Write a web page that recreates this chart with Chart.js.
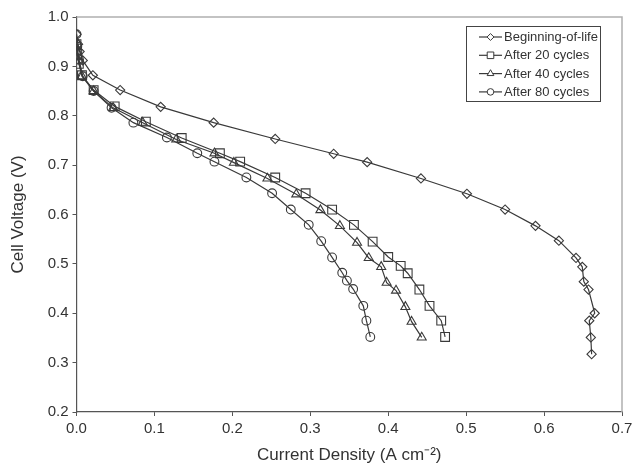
<!DOCTYPE html>
<html>
<head>
<meta charset="utf-8">
<script src="https://cdn.jsdelivr.net/npm/chart.js@4.4.1/dist/chart.umd.min.js"></script>
<style>
html,body{margin:0;padding:0;background:#fff;}
#wrap{width:637px;height:466px;position:relative;}
</style>
</head>
<body>
<div id="wrap"><canvas id="c" width="637" height="466"></canvas></div>
<script>
// ---- data ----
const seriesLabels = ['Beginning-of-life', 'After 20 cycles', 'After 40 cycles', 'After 80 cycles'];

const bolX = [0.000,0.002,0.004,0.008,0.021,0.056,0.108,0.176,0.255,0.330,0.373,0.442,0.501,0.550,0.589,0.619,0.641,0.649,0.651,0.657,0.665,0.658,0.660,0.661];
const bolY = [0.965,0.945,0.930,0.912,0.882,0.852,0.818,0.786,0.753,0.723,0.706,0.673,0.642,0.610,0.577,0.547,0.512,0.494,0.464,0.448,0.400,0.385,0.351,0.317];

const c20X = [0.000,0.001,0.003,0.007,0.022,0.049,0.089,0.135,0.184,0.210,0.255,0.294,0.328,0.356,0.380,0.400,0.416,0.425,0.440,0.453,0.468,0.473];
const c20Y = [0.945,0.925,0.905,0.882,0.852,0.819,0.788,0.755,0.724,0.707,0.675,0.643,0.610,0.579,0.545,0.514,0.496,0.481,0.448,0.415,0.385,0.352];

const c40X = [0.000,0.001,0.003,0.007,0.022,0.047,0.085,0.128,0.177,0.202,0.245,0.282,0.313,0.338,0.360,0.375,0.391,0.398,0.410,0.422,0.430,0.443];
const c40Y = [0.950,0.930,0.910,0.880,0.850,0.816,0.786,0.752,0.724,0.705,0.673,0.641,0.609,0.577,0.543,0.512,0.494,0.462,0.446,0.413,0.383,0.351];

const c80X = [0.000,0.001,0.003,0.008,0.022,0.045,0.073,0.116,0.155,0.177,0.218,0.251,0.275,0.298,0.314,0.328,0.341,0.347,0.355,0.368,0.372,0.377];
const c80Y = [0.965,0.940,0.915,0.880,0.850,0.816,0.786,0.756,0.724,0.707,0.675,0.643,0.610,0.579,0.546,0.513,0.482,0.466,0.449,0.415,0.385,0.352];

const xTicks = [0.0,0.1,0.2,0.3,0.4,0.5,0.6,0.7];
const yTicks = [0.2,0.3,0.4,0.5,0.6,0.7,0.8,0.9,1.0];

const toPts = (xs, ys) => xs.map((x, i) => ({x: x, y: ys[i]}));

const ink = '#3a3a3a';
const styles = [
  {pointStyle: 'rectRot', radius: 4.6},
  {pointStyle: 'rect', radius: 6.2},
  {pointStyle: 'triangle', radius: 5.2},
  {pointStyle: 'circle', radius: 4.4}
];
const allData = [toPts(bolX,bolY), toPts(c20X,c20Y), toPts(c40X,c40Y), toPts(c80X,c80Y)];

const datasets = allData.map((d, i) => ({
  label: seriesLabels[i],
  data: d,
  showLine: true,
  borderColor: ink,
  borderWidth: 1.2,
  pointStyle: styles[i].pointStyle,
  pointRadius: styles[i].radius,
  pointBorderColor: ink,
  pointBackgroundColor: 'rgba(255,255,255,0)',
  pointBorderWidth: 1.1,
  tension: 0
}));

const fontFam = '"Liberation Sans", Arial, sans-serif';

// custom boxed legend + frame
const boxLegend = {
  id: 'boxLegend',
  afterDraw(chart) {
    const ctx = chart.ctx;
    const a = chart.chartArea;
    ctx.save();
    // light frame (top / right)
    ctx.strokeStyle = '#b0b0b0';
    ctx.lineWidth = 1.5;
    ctx.beginPath();
    ctx.moveTo(a.left, a.top);
    ctx.lineTo(a.right, a.top);
    ctx.lineTo(a.right, a.bottom);
    ctx.stroke();
    // legend box
    const bx = 466.5, by = 26.5, bw = 134, bh = 75;
    ctx.strokeStyle = '#444';
    ctx.lineWidth = 1;
    ctx.strokeRect(bx, by, bw, bh);
    ctx.font = '13px ' + fontFam;
    ctx.textBaseline = 'middle';
    chart.data.datasets.forEach((ds, i) => {
      const yy = by + 10.5 + i * 18.3;
      ctx.strokeStyle = ink;
      ctx.lineWidth = 1.2;
      ctx.beginPath();
      ctx.moveTo(479, yy);
      ctx.lineTo(502, yy);
      ctx.stroke();
      ctx.fillStyle = '#ffffff';
      ctx.strokeStyle = ink;
      ctx.lineWidth = 1;
      Chart.helpers.drawPoint(ctx, {
        pointStyle: ds.pointStyle, radius: ds.pointRadius * 0.75, rotation: 0, borderWidth: 1
      }, 490.5, yy);
      ctx.fillStyle = '#333';
      ctx.fillText(ds.label, 504, yy + 0.5);
    });
    ctx.restore();
  }
};

new Chart(document.getElementById('c'), {
  type: 'scatter',
  data: {datasets: datasets},
  plugins: [boxLegend],
  options: {
    responsive: false,
    animation: false,
    devicePixelRatio: 1,
    layout: {padding: {top: 17, right: 15, left: 8, bottom: 0}},
    plugins: {
      legend: {display: false},
      tooltip: {enabled: false}
    },
    scales: {
      x: {
        type: 'linear',
        min: 0, max: 0.7,
        afterBuildTicks: s => { s.ticks = xTicks.map(v => ({value: v})); },
        afterFit: s => { s.height = 54; },
        grid: {display: true, drawOnChartArea: false, drawTicks: true, tickLength: 4, color: '#555'},
        border: {display: true, color: '#555', width: 1.2},
        ticks: {
          color: '#333', padding: 4,
          font: {family: fontFam, size: 15},
          callback: v => v.toFixed(1),
          maxRotation: 0
        },
        title: {
          display: true, text: 'Current Density (A cm\u207B\u00B2)',
          color: '#333', font: {family: fontFam, size: 17}, padding: {top: 3, bottom: 0}
        }
      },
      y: {
        type: 'linear',
        min: 0.2, max: 1.0,
        afterBuildTicks: s => { s.ticks = yTicks.map(v => ({value: v})); },
        afterFit: s => { s.width = 68.5; },
        grid: {display: true, drawOnChartArea: false, drawTicks: true, tickLength: 4, color: '#555'},
        border: {display: true, color: '#555', width: 1.2},
        ticks: {
          color: '#333', padding: 4,
          font: {family: fontFam, size: 15},
          callback: v => v.toFixed(1)
        },
        title: {
          display: true, text: 'Cell Voltage (V)',
          color: '#333', font: {family: fontFam, size: 17}, padding: {top: 0, bottom: 6}
        }
      }
    }
  }
});
</script>
</body>
</html>
